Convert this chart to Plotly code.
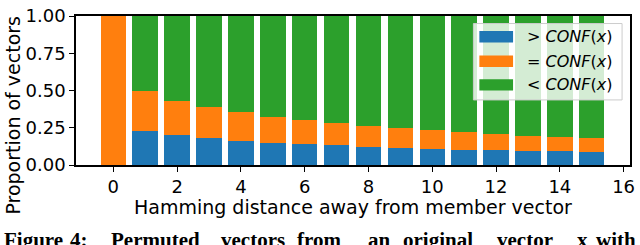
import plotly.graph_objects as go

distances = list(range(16))
greater = [0.0, 0.231, 0.200, 0.180, 0.163, 0.151, 0.138, 0.132, 0.121, 0.117, 0.110, 0.104, 0.100, 0.096, 0.091, 0.087]
equal = [1.0, 0.266, 0.231, 0.209, 0.192, 0.174, 0.166, 0.150, 0.144, 0.131, 0.126, 0.117, 0.108, 0.101, 0.096, 0.091]
less = [0.0, 0.503, 0.569, 0.611, 0.645, 0.675, 0.696, 0.718, 0.735, 0.752, 0.764, 0.779, 0.792, 0.803, 0.813, 0.822]
series_names = ["&gt; <i>CONF</i>(<i>x</i>)", "= <i>CONF</i>(<i>x</i>)", "&lt; <i>CONF</i>(<i>x</i>)"]
colors = ["#1f77b4", "#ff7f0e", "#2ca02c"]
x_ticks = [0, 2, 4, 6, 8, 10, 12, 14, 16]
y_ticks = [0.0, 0.25, 0.5, 0.75, 1.0]
caption_words = ["Figure", "4:", "Permuted", "vectors", "from", "an", "original", "vector", "x", "with"]

W, H = 640, 245
L, R, T, B = 76, 635, 7, 165
pw, ph = R - L, B - T

def px(x):
    return (x - L) / pw

def py(y):
    return (B - y) / ph

fig = go.Figure()
for vals, name, c in zip([greater, equal, less], series_names, colors):
    fig.add_trace(go.Bar(x=distances, y=vals, name=name, marker_color=c,
                         marker_line_width=0, width=0.8, showlegend=False))

font = "DejaVu Sans"
fig.update_layout(
    width=W, height=H, barmode="stack",
    margin=dict(l=L, r=W - R, t=T, b=H - B, pad=0),
    plot_bgcolor="white", paper_bgcolor="white",
    font=dict(family=font, size=18, color="black"),
    xaxis=dict(range=[-1.17, 16.2], tickvals=x_ticks, ticks="outside", ticklen=5,
               tickwidth=1.3, tickcolor="black", showline=True, linecolor="black",
               linewidth=1.5, mirror=True, showgrid=False, zeroline=False,
               tickfont=dict(size=18), ticklabeloverflow="allow"),
    yaxis=dict(range=[0, 1.0005], tickvals=y_ticks, tickformat=".2f", ticks="outside",
               ticklen=5, tickwidth=1.3, tickcolor="black", showline=True,
               linecolor="black", linewidth=1.5, mirror=True, showgrid=False,
               zeroline=False, tickfont=dict(size=18), ticklabeloverflow="allow"),
)

# axis titles
fig.add_annotation(text="Hamming distance away from member vector", xref="paper", yref="paper",
                   x=px(356), y=py(210), xanchor="center", yanchor="middle",
                   showarrow=False, font=dict(size=19, family=font))
fig.add_annotation(text="Proportion of vectors", xref="paper", yref="paper",
                   x=px(12), y=py(112), xanchor="center", yanchor="middle", textangle=-90,
                   showarrow=False, font=dict(size=19, family=font))

# legend (manual, matplotlib style)
fig.add_shape(type="rect", xref="paper", yref="paper", x0=px(477), x1=px(627), y0=py(15), y1=py(96),
              fillcolor="rgba(255,255,255,0.8)", line=dict(color="#cccccc", width=1), layer="above")
patch_y = [29, 55, 80]
for name, c, yc in zip(series_names, colors, patch_y):
    fig.add_shape(type="rect", xref="paper", yref="paper", x0=px(483), x1=px(517),
                  y0=py(yc - 6), y1=py(yc + 6), fillcolor=c, line=dict(width=0), layer="above")
    fig.add_annotation(text=name, xref="paper", yref="paper", x=px(529), y=py(yc),
                       xanchor="left", yanchor="middle", showarrow=False,
                       font=dict(size=16, family=font))

# caption (justified in the source, cut off by the image edge)
word_x = [1, 68, 109, 220, 297, 369, 404, 499, 579, 599]
for w, wx in zip(caption_words, word_x):
    fig.add_annotation(text="<b>" + w + "</b>", xref="paper", yref="paper",
                       x=px(wx), y=py(230), xanchor="left", yanchor="top",
                       showarrow=False, font=dict(size=21, family="Liberation Serif"))

fig.write_html("out.html", config={"displayModeBar": False},
               post_script="document.body.style.margin='0';document.body.style.overflow='hidden';")
